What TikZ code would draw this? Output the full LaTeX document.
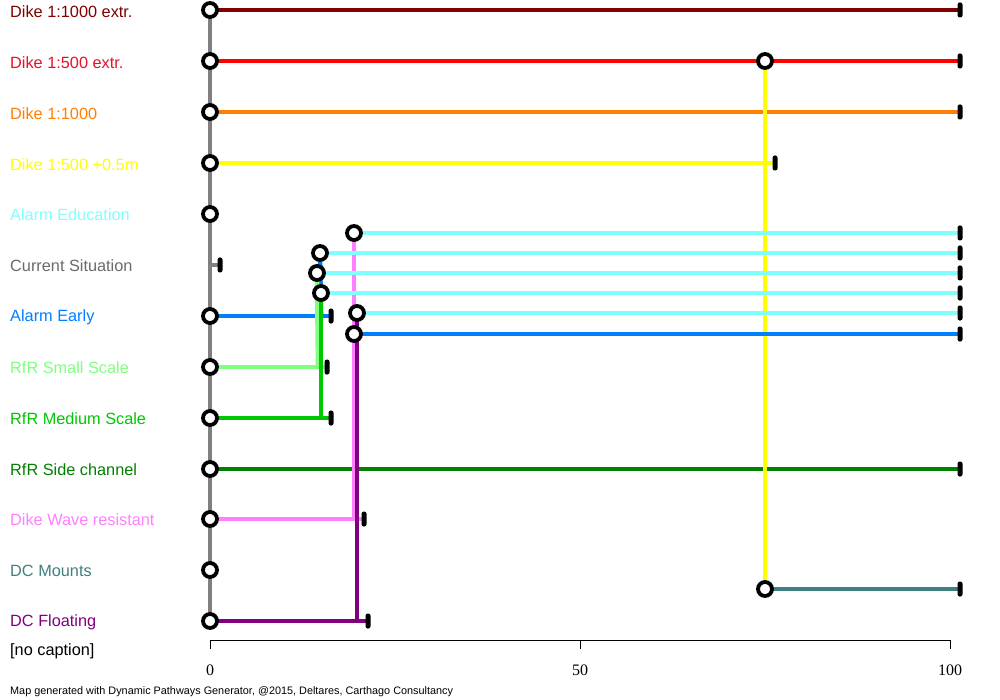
\documentclass[tikz,border=0pt]{standalone}
\usepackage{fontspec}
\setmainfont{Liberation Sans}
\newfontfamily\axisfont{Liberation Serif}
\usetikzlibrary{backgrounds}
\definecolor{cDkRed}{HTML}{800000}
\definecolor{cRed}{HTML}{FF0000}
\definecolor{cRedT}{HTML}{E8102A}
\definecolor{cOrange}{HTML}{FF8000}
\definecolor{cYellow}{HTML}{FFFF00}
\definecolor{cCyan}{HTML}{80FFFF}
\definecolor{cGray}{HTML}{808080}
\definecolor{cGrayT}{HTML}{6A6A6A}
\definecolor{cBlue}{HTML}{0080FF}
\definecolor{cLtGreen}{HTML}{80FF80}
\definecolor{cGreen}{HTML}{00C800}
\definecolor{cDkGreen}{HTML}{008000}
\definecolor{cPink}{HTML}{FF80FF}
\definecolor{cTeal}{HTML}{408080}
\definecolor{cPurple}{HTML}{800080}
\begin{document}
\begin{tikzpicture}[x=1pt,y=-1pt,
  startc/.style={circle,draw=black,fill=white,line width=3.8pt,minimum size=14pt,inner sep=0pt},
  endtick/.style={rectangle,fill=black,rounded corners=2.2pt,minimum width=5pt,minimum height=15pt,inner sep=0pt},
  lbl/.style={anchor=west,font=\fontsize{16.3}{18}\selectfont,inner sep=0pt},
  axlbl/.style={font=\axisfont\fontsize{16}{18}\selectfont,inner sep=0pt},
  pline/.style={line width=4.6pt}]
\useasboundingbox (0,0) rectangle (1000,700);

% labels
\node[lbl,text=cDkRed] (l1) at (10,12) {Dike 1:1000 extr.};
\node[lbl,text=cRedT] (l2) at (10,63) {Dike 1:500 extr.};
\node[lbl,text=cOrange] (l3) at (10,114) {Dike 1:1000};
\node[lbl,text=cYellow] (l4) at (10,165) {Dike 1:500 +0.5m};
\node[lbl,text=cCyan] (l5) at (10,215) {Alarm Education};
\node[lbl,text=cGrayT] (l6) at (10,266) {Current Situation};
\node[lbl,text=cBlue] (l7) at (10,317) {Alarm Early};
\node[lbl,text=cLtGreen] (l8) at (10,368) {RfR Small Scale};
\node[lbl,text=cGreen] (l9) at (10,419) {RfR Medium Scale};
\node[lbl,text=cDkGreen] (l10) at (10,470) {RfR Side channel};
\node[lbl,text=cPink] (l11) at (10,520) {Dike Wave resistant};
\node[lbl,text=cTeal] (l12) at (10,571) {DC Mounts};
\node[lbl,text=cPurple] (l13) at (10,622) {DC Floating};
\node[lbl,text=black] (cap) at (10,651) {[no caption]};
\node[anchor=west,inner sep=0pt,font=\fontsize{10.85}{12}\selectfont] (foot) at (10,692) {Map generated with Dynamic Pathways Generator, @2015, Deltares, Carthago Consultancy};

% start circles
\node[startc] (s1) at (210,10) {};
\node[startc] (s2) at (210,61) {};
\node[startc] (s3) at (210,112) {};
\node[startc] (s4) at (210,163) {};
\node[startc] (s5) at (210,214) {};
\coordinate (s6) at (210,265);
\node[startc] (s7) at (210,316) {};
\node[startc] (s8) at (210,367) {};
\node[startc] (s9) at (210,418) {};
\node[startc] (s10) at (210,469) {};
\node[startc] (s11) at (210,519) {};
\node[startc] (s12) at (210,570) {};
\node[startc] (s13) at (210,621) {};

% transfer circles
\node[startc] (t2) at (765,61) {};
\node[startc] (tm) at (765,589) {};
\node[startc] (ca) at (354,233) {};
\node[startc] (cb) at (320,253) {};
\node[startc] (cc) at (317,273) {};
\node[startc] (cd) at (321,293) {};
\node[startc] (ce) at (357,313) {};
\node[startc] (cf) at (354,334) {};

% end ticks
\node[endtick] (e1) at (960,10) {};
\node[endtick] (e2) at (960,61) {};
\node[endtick] (e3) at (960,112) {};
\node[endtick] (e4) at (775,163) {};
\node[endtick] (e6) at (220,265) {};
\node[endtick] (e7) at (331,316) {};
\node[endtick] (e8) at (327,367) {};
\node[endtick] (e9) at (331,418) {};
\node[endtick] (e10) at (960,469) {};
\node[endtick] (e11) at (364,519) {};
\node[endtick] (e13) at (368,621) {};
\node[endtick] (em) at (960,589) {};
\node[endtick] (ea) at (960,233) {};
\node[endtick] (eb) at (960,253) {};
\node[endtick] (ec) at (960,273) {};
\node[endtick] (ed) at (960,293) {};
\node[endtick] (ee) at (960,313) {};
\node[endtick] (ef) at (960,334) {};

% junctions
\coordinate (j7) at (321,316);
\coordinate (j8) at (318,367);
\coordinate (j9) at (321,418);
\coordinate (j11) at (354,519);
\coordinate (j13) at (357,621);

\begin{pgfonlayer}{background}
\fill[white] (0,0) rectangle (1000,700);
\draw[pline,cGray] (s1.center) -- (s13.center);
\draw[pline,cDkRed] (s1.center) -- (e1.center);
\draw[pline,cRed] (s2.center) -- (e2.center);
\draw[pline,cOrange] (s3.center) -- (e3.center);
\draw[pline,cYellow] (s4.center) -- (e4.center);
\draw[pline,cGray] (s6) -- (e6.center);
\draw[pline,cBlue] (s7.center) -- (e7.center);
\draw[pline,cLtGreen] (s8.center) -- (e8.center);
\draw[pline,cGreen] (s9.center) -- (e9.center);
\draw[pline,cDkGreen] (s10.center) -- (e10.center);
\draw[pline,cPink] (s11.center) -- (e11.center);
\draw[pline,cPurple] (s13.center) -- (e13.center);
% verticals
\draw[pline,cYellow] (t2.center) -- (tm.center);
\draw[pline,cPink] (j11) -- (ca.center);
\draw[pline,cBlue] (j7) -- (cb.center);
\draw[pline,cLtGreen] (j8) -- (cc.center);
\draw[pline,cGreen] (j9) -- (cd.center);
\draw[pline,cPurple] (j13) -- (ce.center);
% follow-up horizontals
\draw[pline,cTeal] (tm.center) -- (em.center);
\draw[pline,cCyan] (ca.center) -- (ea.center);
\draw[pline,cCyan] (cb.center) -- (eb.center);
\draw[pline,cCyan] (cc.center) -- (ec.center);
\draw[pline,cCyan] (cd.center) -- (ed.center);
\draw[pline,cCyan] (ce.center) -- (ee.center);
\draw[pline,cBlue] (cf.center) -- (ef.center);
\end{pgfonlayer}

% axis
\coordinate (a0) at (210,640);
\coordinate (a50) at (580,640);
\coordinate (a100) at (950,640);
\draw[line width=1pt] ([yshift=-9pt]a0) -- (a0) -- (a100) -- ([yshift=-9pt]a100);
\draw[line width=1pt] (a50) -- ([yshift=-9pt]a50);
\node[axlbl] (x0) at (210,670) {0};
\node[axlbl] (x50) at (580,670) {50};
\node[axlbl] (x100) at (950,670) {100};
\end{tikzpicture}
\end{document}
